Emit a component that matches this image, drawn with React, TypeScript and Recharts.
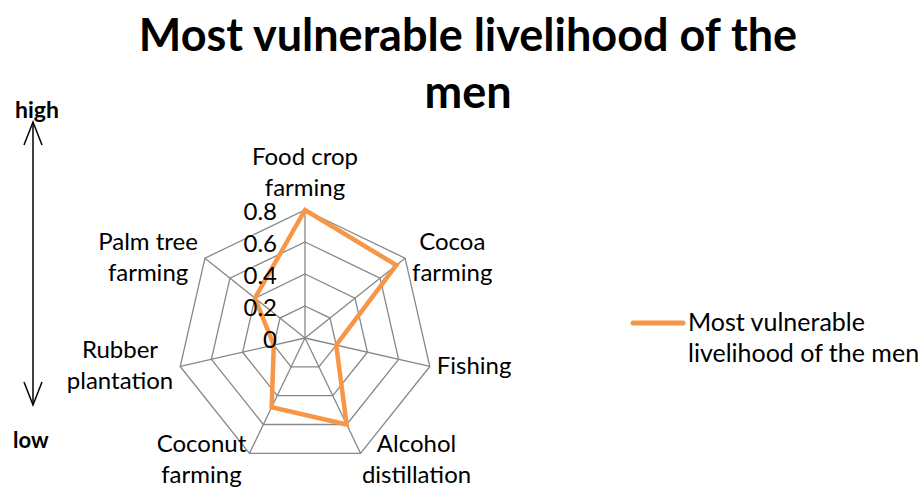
import { Legend, PolarAngleAxis, PolarGrid, PolarRadiusAxis, Radar, RadarChart } from "recharts";

const categories = [
  "Food crop\nfarming",
  "Cocoa\nfarming",
  "Fishing",
  "Alcohol\ndistillation",
  "Coconut\nfarming",
  "Rubber\nplantation",
  "Palm tree\nfarming",
];
const menValues = [0.8, 0.73, 0.2, 0.6, 0.48, 0.2, 0.4];
const seriesName = "Most vulnerable livelihood of the men";

// scaled by 10 internally so the radius axis nice-tick step comes out exactly 0.2
const SCALE = 10;
const data = categories.map((name, i) => ({ name, men: menValues[i] * SCALE }));

const FONT = "Lato, 'Open Sans', sans-serif";
const CX = 305;
const CY = 338;
const R = 128;
const LINE = 31;
const LABEL_SIZE = 24;

let ctx: CanvasRenderingContext2D | null = null;
function textWidth(s: string) {
  if (!ctx) ctx = document.createElement("canvas").getContext("2d");
  if (!ctx) return s.length * LABEL_SIZE * 0.5;
  ctx.font = `${LABEL_SIZE}px Lato`;
  return ctx.measureText(s).width;
}

function AngleTick(props: any) {
  const { payload } = props;
  const lines: string[] = String(payload.value).split("\n");
  const a = (payload.coordinate * Math.PI) / 180;
  const vx = CX + R * Math.cos(a);
  const vy = CY - R * Math.sin(a);
  const cos = Math.cos(a);
  const sin = Math.sin(a);
  const w = Math.max(...lines.map(textWidth));
  let x = vx;
  let firstY = vy;
  if (sin > 0.95) {
    firstY = vy - 24 - LINE * (lines.length - 1);
  } else if (sin < -0.8) {
    x = vx + (cos > 0 ? 56 : -48);
    firstY = vy - 11;
  } else {
    x = vx + (cos > 0 ? 7 + w / 2 : -7 - w / 2);
    firstY = vy - 2 - (LINE * (lines.length - 1)) / 2;
  }
  return (
    <text x={x} y={firstY} textAnchor="middle" fontSize={LABEL_SIZE} fill="#000" fontFamily={FONT}>
      {lines.map((l, i) => (
        <tspan key={i} x={x} y={firstY + i * LINE} dominantBaseline="central">
          {l}
        </tspan>
      ))}
    </text>
  );
}

function RadiusTick(props: any) {
  const { x, y, payload } = props;
  return (
    <text x={x - 28} y={y} textAnchor="end" dominantBaseline="central" fontSize={24} fill="#000" fontFamily={FONT}>
      {String(parseFloat((Number(payload.value) / SCALE).toFixed(1)))}
    </text>
  );
}

function LegendContent() {
  return (
    <div style={{ display: "flex", alignItems: "flex-start", fontFamily: FONT, fontSize: 25, color: "#000" }}>
      <svg width={58} height={20} style={{ marginTop: 5 }}>
        <line x1={3} y1={10} x2={53} y2={10} stroke="#F79646" strokeWidth={5} strokeLinecap="round" />
      </svg>
      <div style={{ lineHeight: "31px", marginTop: -2 }}>
        Most vulnerable
        <br />
        livelihood of the men
      </div>
    </div>
  );
}

export default function App() {
  return (
    <div style={{ position: "fixed", left: 0, top: 0, width: 922, height: 488, background: "#fff", fontFamily: FONT }}>
      <div
        style={{
          position: "absolute",
          left: 0,
          width: 936,
          top: 6,
          textAlign: "center",
          fontWeight: 700,
          fontSize: 45,
          lineHeight: "57px",
          color: "#000",
        }}
      >
        Most vulnerable livelihood of the
        <br />
        men
      </div>
      <div style={{ position: "absolute", left: 15, top: 95, fontWeight: 700, fontSize: 23 }}>high</div>
      <div style={{ position: "absolute", left: 13, top: 426, fontWeight: 700, fontSize: 22 }}>low</div>
      <svg width={60} height={300} style={{ position: "absolute", left: 0, top: 115 }}>
        <line x1={33} y1={7} x2={33} y2={290} stroke="#000" strokeWidth={1.5} />
        <polyline points="24,30 33,7 42,30" fill="none" stroke="#000" strokeWidth={1.5} />
        <polyline points="24,267 33,290 42,267" fill="none" stroke="#000" strokeWidth={1.5} />
      </svg>
      <div style={{ position: "absolute", left: 0, top: 0 }}>
        <RadarChart width={922} height={488} data={data} cx={CX} cy={CY} outerRadius={R} margin={{ top: 0, right: 0, bottom: 0, left: 0 }}>
          <PolarGrid gridType="polygon" stroke="#878787" strokeWidth={1.3} />
          <PolarAngleAxis dataKey="name" tick={AngleTick} tickLine={false} axisLine={false} />
          <PolarRadiusAxis
            type="number"
            angle={90}
            domain={[0, 0.8 * SCALE]}
            tickCount={5}
            tick={RadiusTick}
            axisLine={false}
            tickLine={false}
          />
          <Radar
            name={seriesName}
            dataKey="men"
            stroke="#F79646"
            strokeWidth={4.5}
            fill="none"
            fillOpacity={0}
            dot={false}
            isAnimationActive={false}
          />
          <Legend
            content={LegendContent}
            layout="vertical"
            wrapperStyle={{ position: "absolute", left: 630, top: 308, width: 300 }}
          />
        </RadarChart>
      </div>
    </div>
  );
}
